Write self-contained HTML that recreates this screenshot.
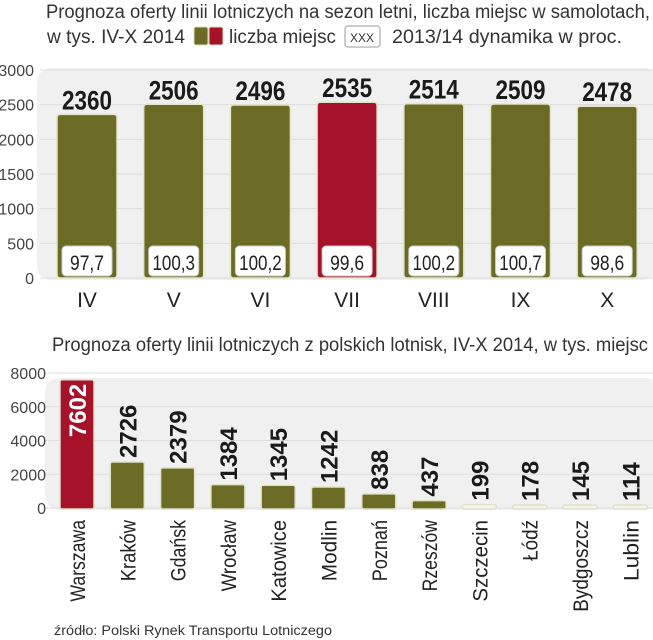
<!DOCTYPE html>
<html><head><meta charset="utf-8"><style>
html,body{margin:0;padding:0;background:#fff;}
svg{display:block;font-family:"Liberation Sans",sans-serif;}
</style></head><body>
<svg id="chart" width="653" height="640" viewBox="0 0 653 640">
<g>
<text x="650" y="18" text-anchor="end" font-size="19" fill="#333" textLength="604" lengthAdjust="spacingAndGlyphs">Prognoza oferty linii lotniczych na sezon letni, liczba miejsc w samolotach,</text>
<text x="47" y="43" font-size="19" fill="#333" textLength="138" lengthAdjust="spacingAndGlyphs">w tys. IV-X 2014</text>
<rect x="194" y="27" width="14" height="18" rx="2" fill="#6b6b26" stroke="#dcdcc0"/>
<rect x="209" y="27" width="14" height="18" rx="2" fill="#a5122a" stroke="#dcdcc0"/>
<text x="229" y="43" font-size="19" fill="#333" textLength="107" lengthAdjust="spacingAndGlyphs">liczba miejsc</text>
<rect x="345" y="26" width="35" height="21" rx="3" fill="#fff" stroke="#bbb" stroke-width="1.5"/>
<text x="362" y="42" text-anchor="middle" font-size="12" fill="#333">XXX</text>
<text x="392" y="43" font-size="19" fill="#333" textLength="230" lengthAdjust="spacingAndGlyphs">2013/14  dynamika w proc.</text>
</g>
<g id="top"></g>
<text x="648" y="351" text-anchor="end" font-size="19" fill="#333" textLength="596" lengthAdjust="spacingAndGlyphs">Prognoza oferty linii lotniczych z polskich lotnisk, IV-X 2014, w tys. miejsc</text>
<g id="bottom"></g>
<text x="54" y="635" font-size="13.5" fill="#333" textLength="278" lengthAdjust="spacingAndGlyphs">źródło: Polski Rynek Transportu Lotniczego</text>
</svg>
<script>
const months = ["IV","V","VI","VII","VIII","IX","X"];
const seats = [2360,2506,2496,2535,2514,2509,2478];
const dyn = ["97,7","100,3","100,2","99,6","100,2","100,7","98,6"];
const topTicks = [0,500,1000,1500,2000,2500,3000];
const highlightMonth = "VII";

const cities = ["Warszawa","Kraków","Gdańsk","Wrocław","Katowice","Modlin","Poznań","Rzeszów","Szczecin","Łódź","Bydgoszcz","Lublin"];
const citySeats = [7602,2726,2379,1384,1345,1242,838,437,199,178,145,114];
const bottomTicks = [0,2000,4000,6000,8000];
const highlightCity = "Warszawa";

const NS="http://www.w3.org/2000/svg";
function mk(tag,attrs,parent,txt){const e=document.createElementNS(NS,tag);for(const k in attrs)e.setAttribute(k,attrs[k]);if(txt!==undefined)e.textContent=txt;parent.appendChild(e);return e;}
const OLIVE="#6b6b26", RED="#a5122a";

const T=document.getElementById('top');
const ty=v=>278-v*(208/3000);
const tx=i=>87+i*86.7;
let bg=mk('rect',{x:37,y:68,width:620,height:212,rx:14,fill:"#f0f0f0"},T);


topTicks.forEach(t=>{
  let l=mk('line',{x1:40,x2:653,y1:ty(t),y2:ty(t),stroke:"#ddd","stroke-width":1},T);
  
  
  let lb=mk('text',{x:34,y:ty(t)+6,"text-anchor":"end","font-size":16,fill:"#444"},T,t);
  
  
});
months.forEach((m,i)=>{
  const cx=tx(i), w=60, y=ty(seats[i]);
  let b=mk('rect',{x:cx-w/2,y:y,width:w,height:278-y,rx:3,fill:m===highlightMonth?RED:OLIVE,stroke:"#e4e4c8","stroke-width":1.5},T);
  
  
  let v=mk('text',{x:cx,y:y-5,"text-anchor":"middle","font-size":27,"font-weight":"bold",fill:"#1a1a1a",textLength:50,lengthAdjust:"spacingAndGlyphs"},T,seats[i]);
  
  
  let bx=mk('rect',{x:cx-25,y:246,width:50,height:30,rx:4,fill:"#fff",stroke:"#ccc"},T);
  
  
  let d=mk('text',{x:cx,y:270,"text-anchor":"middle","font-size":21,fill:"#222",textLength:dyn[i].length*8.5,lengthAdjust:"spacingAndGlyphs"},T,dyn[i]);
  
  
  let ml=mk('text',{x:cx,y:307,"text-anchor":"middle","font-size":21,fill:"#222"},T,m);
  
  
});

const B=document.getElementById('bottom');
const by=v=>508-v*(135/8000);
const bxf=i=>77+i*50.3;
let bg2=mk('rect',{x:45,y:378,width:615,height:132,rx:14,fill:"#f0f0f0"},B);


bottomTicks.forEach(t=>{
  let l=mk('line',{x1:45,x2:653,y1:by(t),y2:by(t),stroke:"#ddd","stroke-width":1},B);
  
  
  let lb=mk('text',{x:46,y:by(t)+6,"text-anchor":"end","font-size":16,fill:"#444"},B,t);
  
  
});
cities.forEach((c,i)=>{
  const cx=bxf(i), w=34, y=by(citySeats[i]);
  const top=Math.min(y,505);
  const hl=c===highlightCity;
  let b=mk('rect',{x:cx-w/2,y:top,width:w,height:Math.max(509-top,3),rx:2,fill:citySeats[i]<300?"#f4f4f4":(hl?RED:OLIVE),stroke:"#e2e2c6","stroke-width":1.5},B);
  
  
  const ly=hl?top+4:top-4;
  let v=mk('text',{x:0,y:0,transform:`translate(${cx+9},${ly}) rotate(-90)`,"text-anchor":hl?"end":"start","font-size":24,"font-weight":"bold",fill:hl?"#fff":"#1a1a1a"},B,citySeats[i]);
  
  
  let cl=mk('text',{x:0,y:0,transform:`translate(${cx+8},520) rotate(-90)`,"text-anchor":"end","font-size":21,fill:"#222",textLength:c.length*10.2,lengthAdjust:"spacingAndGlyphs"},B,c);
  
  
});
</script>
</body></html>
